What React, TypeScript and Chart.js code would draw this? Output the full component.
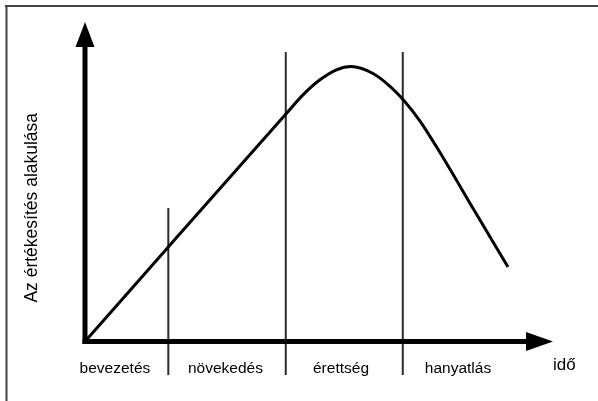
import React, { useEffect, useRef } from "react";
import { Chart, registerables } from "chart.js";

Chart.register(...registerables);

// Product life cycle: sales over time
const timeValues = [0, 17.8, 42.74, 46.58, 50.21, 53.85, 56.84, 61.54, 65.17, 67.95, 71.58, 75.85, 83.12, 90.38];
const salesValues = [0, 29.6, 70.9, 77.2, 81.9, 85.1, 86.07, 83.88, 79.87, 75.74, 69.01, 59.15, 41.16, 23.32];

// Phases of the cycle and where they are separated on the time axis
const phaseNames = ["bevezetés", "növekedés", "érettség", "hanyatlás"];
const phaseLabelAt = [6.4, 30.0, 54.7, 79.7];
const phaseBoundaries = [17.8, 42.9, 67.9];
const boundaryTops = [41.8, 90.6, 90.6];
const boundaryBottom = -10.5;

const xAxisTitle = "idő";
const yAxisTitle = "Az értékesítés alakulása";

const FONT = "'Liberation Sans', Arial, Helvetica, sans-serif";

const decorPlugin = {
  id: "lifecycleDecor",
  beforeDraw(chart: any) {
    const ctx = chart.ctx;
    ctx.save();
    ctx.fillStyle = "#ffffff";
    ctx.fillRect(0, 0, chart.width, chart.height);
    // frame (top and left edges)
    ctx.fillStyle = "#444444";
    ctx.fillRect(5, 5, chart.width - 5, 2);
    ctx.fillRect(5.5, 5, 2, chart.height - 5);
    ctx.restore();
  },
  beforeDatasetsDraw(chart: any) {
    const ctx = chart.ctx;
    const xs = chart.scales.x;
    const ys = chart.scales.y;
    ctx.save();
    ctx.strokeStyle = "#2a2a2a";
    ctx.lineWidth = 2;
    phaseBoundaries.forEach((b, i) => {
      const px = xs.getPixelForValue(b);
      ctx.beginPath();
      ctx.moveTo(px, ys.getPixelForValue(boundaryTops[i]));
      ctx.lineTo(px, ys.getPixelForValue(boundaryBottom));
      ctx.stroke();
    });
    ctx.restore();
  },
  afterDatasetsDraw(chart: any) {
    const ctx = chart.ctx;
    const xs = chart.scales.x;
    const ys = chart.scales.y;
    const x0 = xs.getPixelForValue(0);
    const y0 = ys.getPixelForValue(0);
    const xEnd = xs.getPixelForValue(xs.max);
    const yEnd = ys.getPixelForValue(ys.max);
    const shaft = 5;
    const headLenY = 25;
    const headLenX = 27;
    const headHalf = 9.5;

    ctx.save();
    ctx.fillStyle = "#000000";
    // vertical axis with arrow
    ctx.fillRect(x0 - shaft / 2, yEnd + headLenY - 1, shaft, y0 - yEnd - headLenY + 1 + shaft / 2);
    ctx.beginPath();
    ctx.moveTo(x0, yEnd);
    ctx.lineTo(x0 + headHalf, yEnd + headLenY);
    ctx.lineTo(x0 - headHalf, yEnd + headLenY);
    ctx.closePath();
    ctx.fill();
    // horizontal axis with arrow
    ctx.fillRect(x0 - shaft / 2, y0 - shaft / 2, xEnd - headLenX - x0 + shaft / 2 + 1, shaft);
    ctx.beginPath();
    ctx.moveTo(xEnd, y0);
    ctx.lineTo(xEnd - headLenX, y0 - headHalf);
    ctx.lineTo(xEnd - headLenX, y0 + headHalf);
    ctx.closePath();
    ctx.fill();

    // phase names under the time axis
    ctx.fillStyle = "#000000";
    ctx.font = `15.5px ${FONT}`;
    ctx.textAlign = "center";
    ctx.textBaseline = "alphabetic";
    phaseNames.forEach((name, i) => {
      ctx.fillText(name, xs.getPixelForValue(phaseLabelAt[i]), y0 + 31);
    });

    // axis titles
    ctx.font = `17px ${FONT}`;
    ctx.textAlign = "left";
    ctx.fillText(xAxisTitle, xEnd, y0 + 28);

    ctx.font = `17.5px ${FONT}`;
    ctx.textAlign = "center";
    ctx.translate(37, (y0 + yEnd) / 2 + 26);
    ctx.rotate(-Math.PI / 2);
    ctx.fillText(yAxisTitle, 0, 0);
    ctx.restore();
  },
};

export default function App() {
  const canvasRef = useRef<HTMLCanvasElement | null>(null);

  useEffect(() => {
    const canvas = canvasRef.current;
    if (!canvas) return;
    const chart = new Chart(canvas, {
      type: "line",
      data: {
        datasets: [
          {
            data: timeValues.map((t, i) => ({ x: t, y: salesValues[i] })),
            borderColor: "#000000",
            borderWidth: 3,
            pointRadius: 0,
            fill: false,
            cubicInterpolationMode: "monotone",
          },
        ],
      },
      options: {
        animation: false,
        responsive: true,
        maintainAspectRatio: false,
        layout: { padding: { left: 85, top: 22, right: 45, bottom: 59.5 } },
        scales: {
          x: { type: "linear", min: 0, max: 100, display: false },
          y: { type: "linear", min: 0, max: 100, display: false },
        },
        plugins: {
          legend: { display: false },
          tooltip: { enabled: false },
        },
      },
      plugins: [decorPlugin],
    });
    return () => chart.destroy();
  }, []);

  return (
    <div style={{ position: "absolute", left: 0, top: 0, width: 598, height: 401, background: "#fff" }}>
      <canvas ref={canvasRef} />
    </div>
  );
}
